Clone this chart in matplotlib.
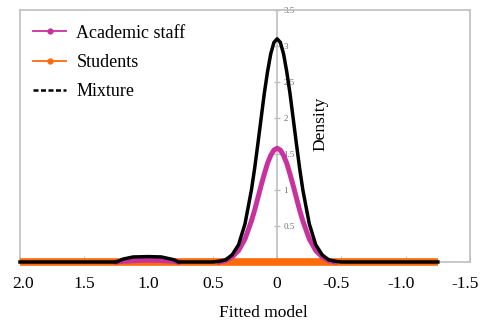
import numpy as np
import matplotlib
matplotlib.use("Agg")
import matplotlib.pyplot as plt
from matplotlib.lines import Line2D
from matplotlib.transforms import ScaledTranslation

plt.rcParams["font.family"] = ["Liberation Serif", "DejaVu Serif"]

# ---------- data ----------
# students: flat at zero over the whole range
students_x = [2.0, -1.25]
students_y = [0.0, 0.0]

# academic staff: small bump near 1.0 and main peak at 0 (gap between)
staff_x = [1.25, 1.2, 1.1, 1.0, 0.9, 0.8, 0.77, np.nan,
           0.45, 0.40, 0.35, 0.30, 0.25, 0.20, 0.175, 0.15, 0.125, 0.10, 0.075,
           0.05, 0.025, 0.0, -0.025, -0.05, -0.075, -0.10, -0.125, -0.15,
           -0.175, -0.20, -0.25, -0.30, -0.35, -0.40, -0.45]
staff_y = [0.0, 0.01, 0.02, 0.025, 0.02, 0.01, 0.0, np.nan,
           0.0, 0.02, 0.07, 0.16, 0.32, 0.57, 0.72, 0.89, 1.06, 1.22, 1.37,
           1.48, 1.555, 1.58, 1.555, 1.48, 1.37, 1.22, 1.06, 0.89,
           0.72, 0.57, 0.32, 0.16, 0.07, 0.02, 0.0]

# mixture
mixture_x = [2.0, 1.3, 1.25, 1.2, 1.12, 1.0, 0.9, 0.8, 0.77, 0.7,
             0.50, 0.45, 0.40, 0.35, 0.30, 0.25, 0.20, 0.175, 0.15, 0.125,
             0.10, 0.075, 0.05, 0.025, 0.0, -0.025, -0.05, -0.075, -0.10,
             -0.125, -0.15, -0.175, -0.20, -0.25, -0.30, -0.35, -0.40, -0.45,
             -0.50, -1.25]
mixture_y = [0.0, 0.0, 0.0, 0.04, 0.07, 0.075, 0.07, 0.03, 0.0, 0.0,
             0.0, 0.01, 0.03, 0.10, 0.24, 0.53, 1.00, 1.30, 1.64, 1.99,
             2.34, 2.64, 2.89, 3.05, 3.10, 3.05, 2.89, 2.64, 2.34,
             1.99, 1.64, 1.30, 1.00, 0.53, 0.24, 0.10, 0.03, 0.01,
             0.0, 0.0]

x_ticks = [2.0, 1.5, 1.0, 0.5, 0.0, -0.5, -1.0, -1.5]
x_labels = ["2.0", "1.5", "1.0", "0.5", "0", "-0.5", "-1.0", "-1.5"]
y_ticks = [0, 0.5, 1, 1.5, 2, 2.5, 3, 3.5]
y_labels = ["0", "0.5", "1", "1.5", "2", "2.5", "3", "3.5"]

magenta = "#C8329E"
orange = "#FF6A0A"
grey = "#BFBFBF"

fig = plt.figure(figsize=(4.8, 3.28), dpi=100)
ax = fig.add_axes([20 / 480, 66 / 328, 450 / 480, 252 / 328])

ax.plot(students_x, students_y, color=orange, lw=5.5, solid_capstyle="butt",
        clip_on=False, zorder=2.6)
ax.plot(staff_x, staff_y, color=magenta, lw=3.6, clip_on=False, zorder=3)
ax.plot(mixture_x, mixture_y, color="black", lw=2.5, clip_on=False, zorder=4)

ax.set_xlim(2.0, -1.5)
ax.set_ylim(0, 3.5)
ax.set_xticks(x_ticks)
ax.set_xticklabels(x_labels)
ax.tick_params(axis="x", direction="in", length=4, color=grey, pad=10,
               labelsize=12.5)
for lab, txt in zip(ax.get_xticklabels(), x_labels):
    dx = -5 if txt.startswith("-") else (3 if txt == "2.0" else 0)
    lab.set_transform(lab.get_transform()
                      + ScaledTranslation(dx / 100, 0, fig.dpi_scale_trans))
ax.set_yticks([])
for s in ax.spines.values():
    s.set_color(grey)
    s.set_linewidth(1.2)

# y axis drawn through x = 0
sec = ax.secondary_yaxis((2.0 - 0.0) / 3.5)
sec.set_yticks(y_ticks)
sec.set_yticklabels(y_labels)
sec.tick_params(axis="y", direction="inout", length=5, color=grey, width=1,
                labelsize=6.5, labelcolor="#707070", pad=2)
for s in sec.spines.values():
    s.set_color(grey)
    s.set_linewidth(1.2)

ax.text(0.667, 0.55, "Density", transform=ax.transAxes, rotation=90,
        ha="center", va="center", fontsize=12.5)
fig.text(263 / 480, 15 / 328, "Fitted model", ha="center", va="center",
         fontsize=12.5)

handles = [
    Line2D([], [], color=magenta, lw=1.3, marker="o", markersize=3.5),
    Line2D([], [], color=orange, lw=1.3, marker="o", markersize=3.5),
    Line2D([], [], color="black", lw=1.8, ls=(0, (2, 1))),
]
ax.legend(handles, ["Academic staff", "Students", "Mixture"], loc="upper left",
          bbox_to_anchor=(0.013, 0.97), frameon=False, fontsize=13,
          handlelength=1.85, handletextpad=0.55, labelspacing=0.68,
          borderaxespad=0)

fig.savefig("out.png", dpi=100)
